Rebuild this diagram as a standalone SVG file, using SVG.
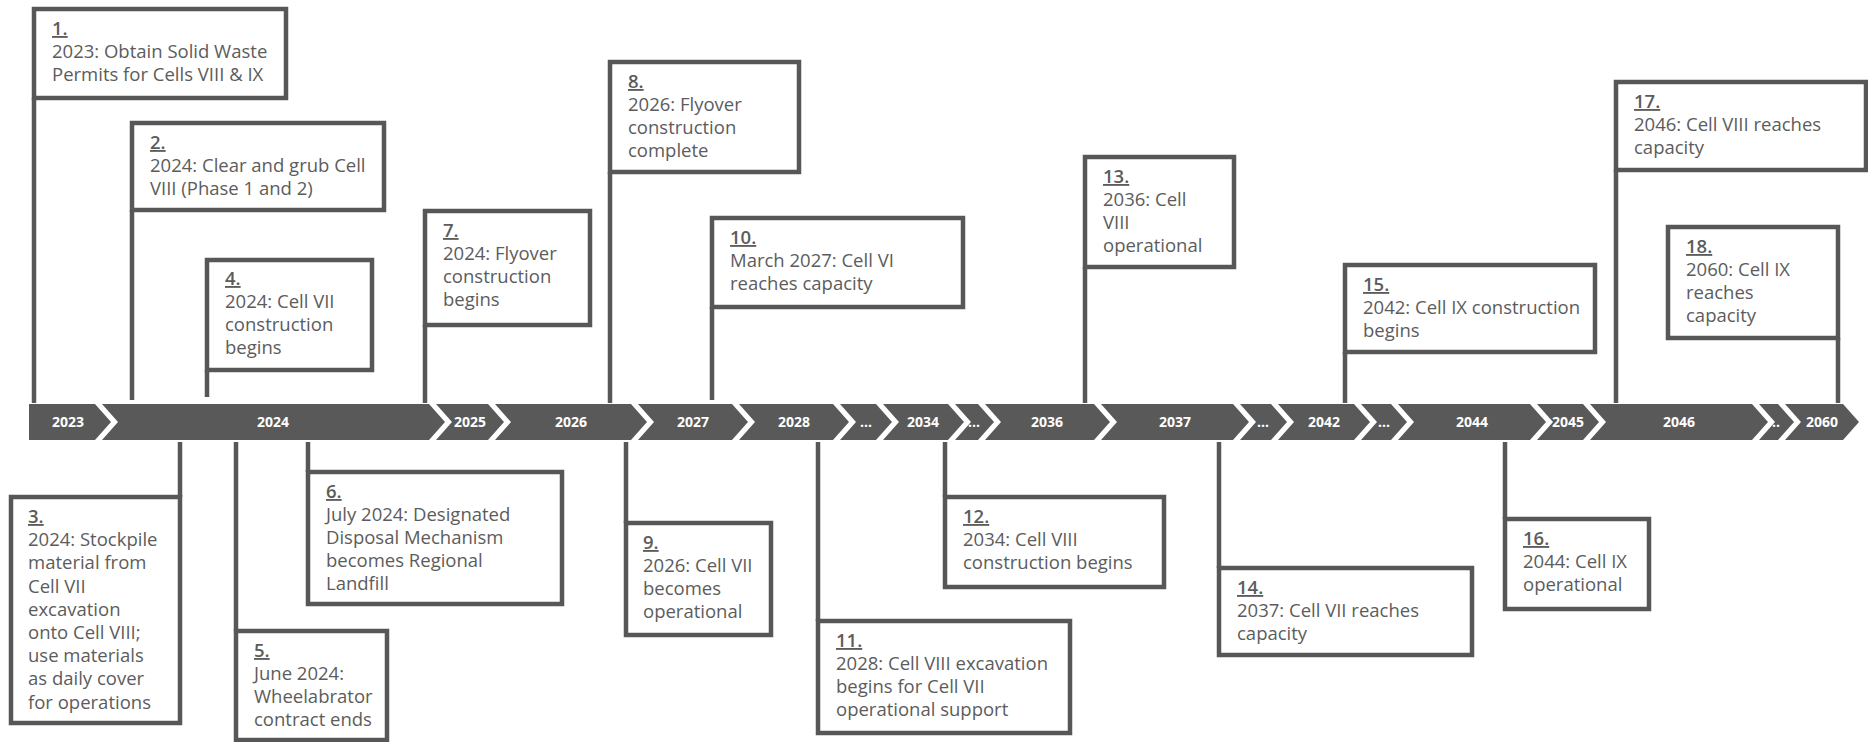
<svg xmlns="http://www.w3.org/2000/svg" width="1868" height="742" viewBox="0 0 1868 742">
<style>
.bg{fill:#ffffff}
.seg{fill:#595959}
.yr{fill:#ffffff;font-family:"Open Sans","Liberation Sans",sans-serif;font-size:14px;font-weight:700;text-anchor:middle}
.box{fill:#ffffff;stroke:#575757;stroke-width:4.5}
.con line{stroke:#575757;stroke-width:4.5}
.t{fill:#5c5c5c;font-family:"Open Sans","Liberation Sans",sans-serif;font-size:18.5px}
.n{font-weight:600;text-decoration:underline}
</style>
<rect class="bg" x="0" y="0" width="1868" height="742"/>
<g id="timeline">
<polygon class="seg" points="29,404 95,404 111,422 95,440 29,440"/>
<polygon class="seg" points="102,404 429,404 445,422 429,440 102,440 118,422"/>
<polygon class="seg" points="436,404 488,404 504,422 488,440 436,440 452,422"/>
<polygon class="seg" points="495,404 631,404 647,422 631,440 495,440 511,422"/>
<polygon class="seg" points="638,404 732,404 748,422 732,440 638,440 654,422"/>
<polygon class="seg" points="739,404 833,404 849,422 833,440 739,440 755,422"/>
<polygon class="seg" points="840,404 876,404 892,422 876,440 840,440 856,422"/>
<polygon class="seg" points="883,404 948,404 964,422 948,440 883,440 899,422"/>
<polygon class="seg" points="955,404 978,404 994,422 978,440 955,440 971,422"/>
<polygon class="seg" points="985,404 1094,404 1110,422 1094,440 985,440 1001,422"/>
<polygon class="seg" points="1101,404 1233,404 1249,422 1233,440 1101,440 1117,422"/>
<polygon class="seg" points="1240,404 1271,404 1287,422 1271,440 1240,440 1256,422"/>
<polygon class="seg" points="1278,404 1354,404 1370,422 1354,440 1278,440 1294,422"/>
<polygon class="seg" points="1361,404 1391,404 1407,422 1391,440 1361,440 1377,422"/>
<polygon class="seg" points="1398,404 1530,404 1546,422 1530,440 1398,440 1414,422"/>
<polygon class="seg" points="1537,404 1583,404 1599,422 1583,440 1537,440 1553,422"/>
<polygon class="seg" points="1590,404 1752,404 1768,422 1752,440 1590,440 1606,422"/>
<polygon class="seg" points="1759,404 1778,404 1794,422 1778,440 1759,440 1775,422"/>
<polygon class="seg" points="1785,404 1843,404 1859,422 1843,440 1785,440 1801,422"/>
<text class="yr" x="68" y="427">2023</text>
<text class="yr" x="273" y="427">2024</text>
<text class="yr" x="470" y="427">2025</text>
<text class="yr" x="571" y="427">2026</text>
<text class="yr" x="693" y="427">2027</text>
<text class="yr" x="794" y="427">2028</text>
<text class="yr" x="866" y="427">...</text>
<text class="yr" x="923" y="427">2034</text>
<text class="yr" x="974" y="427">...</text>
<text class="yr" x="1047" y="427">2036</text>
<text class="yr" x="1175" y="427">2037</text>
<text class="yr" x="1263" y="427">...</text>
<text class="yr" x="1324" y="427">2042</text>
<text class="yr" x="1384" y="427">...</text>
<text class="yr" x="1472" y="427">2044</text>
<text class="yr" x="1568" y="427">2045</text>
<text class="yr" x="1679" y="427">2046</text>
<text class="yr" x="1776" y="427">..</text>
<text class="yr" x="1822" y="427">2060</text>
</g>
<g id="connectors" class="con">
<line x1="34" y1="98" x2="34" y2="403"/>
<line x1="132" y1="210" x2="132" y2="400"/>
<line x1="207" y1="370" x2="207" y2="397"/>
<line x1="425" y1="325" x2="425" y2="403"/>
<line x1="610" y1="172" x2="610" y2="403"/>
<line x1="712" y1="307" x2="712" y2="400"/>
<line x1="1085" y1="267" x2="1085" y2="403"/>
<line x1="1345" y1="352" x2="1345" y2="403"/>
<line x1="1616" y1="170" x2="1616" y2="403"/>
<line x1="1838" y1="338" x2="1838" y2="403"/>
<line x1="180" y1="442" x2="180" y2="497"/>
<line x1="236" y1="442" x2="236" y2="631"/>
<line x1="308" y1="442" x2="308" y2="472"/>
<line x1="626" y1="442" x2="626" y2="523"/>
<line x1="818" y1="442" x2="818" y2="621"/>
<line x1="945" y1="442" x2="945" y2="497"/>
<line x1="1219" y1="442" x2="1219" y2="568"/>
<line x1="1505" y1="442" x2="1505" y2="519"/>
</g>
<g id="n1"><rect class="box" x="34" y="9" width="252" height="89"/>
<text class="t" x="52" y="35"><tspan class="n">1.</tspan><tspan x="52" dy="23">2023: Obtain Solid Waste</tspan><tspan x="52" dy="23">Permits for Cells VIII &amp; IX</tspan></text></g>
<g id="n2"><rect class="box" x="132" y="123" width="252" height="87"/>
<text class="t" x="150" y="149"><tspan class="n">2.</tspan><tspan x="150" dy="23">2024: Clear and grub Cell</tspan><tspan x="150" dy="23">VIII (Phase 1 and 2)</tspan></text></g>
<g id="n3"><rect class="box" x="11" y="497" width="169" height="226"/>
<text class="t" x="28" y="523"><tspan class="n">3.</tspan><tspan x="28" dy="23.2">2024: Stockpile</tspan><tspan x="28" dy="23.2">material from</tspan><tspan x="28" dy="23.2">Cell VII</tspan><tspan x="28" dy="23.2">excavation</tspan><tspan x="28" dy="23.2">onto Cell VIII;</tspan><tspan x="28" dy="23.2">use materials</tspan><tspan x="28" dy="23.2">as daily cover</tspan><tspan x="28" dy="23.2">for operations</tspan></text></g>
<g id="n4"><rect class="box" x="207" y="260" width="165" height="110"/>
<text class="t" x="225" y="285"><tspan class="n">4.</tspan><tspan x="225" dy="23">2024: Cell VII</tspan><tspan x="225" dy="23">construction</tspan><tspan x="225" dy="23">begins</tspan></text></g>
<g id="n5"><rect class="box" x="236" y="631" width="151" height="109"/>
<text class="t" x="254" y="657"><tspan class="n">5.</tspan><tspan x="254" dy="23">June 2024:</tspan><tspan x="254" dy="23">Wheelabrator</tspan><tspan x="254" dy="23">contract ends</tspan></text></g>
<g id="n6"><rect class="box" x="308" y="472" width="254" height="132"/>
<text class="t" x="326" y="498"><tspan class="n">6.</tspan><tspan x="326" dy="23">July 2024: Designated</tspan><tspan x="326" dy="23">Disposal Mechanism</tspan><tspan x="326" dy="23">becomes Regional</tspan><tspan x="326" dy="23">Landfill</tspan></text></g>
<g id="n7"><rect class="box" x="425" y="211" width="165" height="114"/>
<text class="t" x="443" y="237"><tspan class="n">7.</tspan><tspan x="443" dy="23">2024: Flyover</tspan><tspan x="443" dy="23">construction</tspan><tspan x="443" dy="23">begins</tspan></text></g>
<g id="n8"><rect class="box" x="610" y="62" width="189" height="110"/>
<text class="t" x="628" y="88"><tspan class="n">8.</tspan><tspan x="628" dy="23">2026: Flyover</tspan><tspan x="628" dy="23">construction</tspan><tspan x="628" dy="23">complete</tspan></text></g>
<g id="n9"><rect class="box" x="626" y="523" width="145" height="112"/>
<text class="t" x="643" y="549"><tspan class="n">9.</tspan><tspan x="643" dy="23">2026: Cell VII</tspan><tspan x="643" dy="23">becomes</tspan><tspan x="643" dy="23">operational</tspan></text></g>
<g id="n10"><rect class="box" x="712" y="218" width="251" height="89"/>
<text class="t" x="730" y="244"><tspan class="n">10.</tspan><tspan x="730" dy="23">March 2027: Cell VI</tspan><tspan x="730" dy="23">reaches capacity</tspan></text></g>
<g id="n11"><rect class="box" x="818" y="621" width="252" height="112"/>
<text class="t" x="836" y="647"><tspan class="n">11.</tspan><tspan x="836" dy="23">2028: Cell VIII excavation</tspan><tspan x="836" dy="23">begins for Cell VII</tspan><tspan x="836" dy="23">operational support</tspan></text></g>
<g id="n12"><rect class="box" x="945" y="497" width="219" height="90"/>
<text class="t" x="963" y="523"><tspan class="n">12.</tspan><tspan x="963" dy="23">2034: Cell VIII</tspan><tspan x="963" dy="23">construction begins</tspan></text></g>
<g id="n13"><rect class="box" x="1085" y="157" width="149" height="110"/>
<text class="t" x="1103" y="183"><tspan class="n">13.</tspan><tspan x="1103" dy="23">2036: Cell</tspan><tspan x="1103" dy="23">VIII</tspan><tspan x="1103" dy="23">operational</tspan></text></g>
<g id="n14"><rect class="box" x="1219" y="568" width="253" height="87"/>
<text class="t" x="1237" y="594"><tspan class="n">14.</tspan><tspan x="1237" dy="23">2037: Cell VII reaches</tspan><tspan x="1237" dy="23">capacity</tspan></text></g>
<g id="n15"><rect class="box" x="1345" y="265" width="250" height="87"/>
<text class="t" x="1363" y="291"><tspan class="n">15.</tspan><tspan x="1363" dy="23">2042: Cell IX construction</tspan><tspan x="1363" dy="23">begins</tspan></text></g>
<g id="n16"><rect class="box" x="1505" y="519" width="144" height="90"/>
<text class="t" x="1523" y="545"><tspan class="n">16.</tspan><tspan x="1523" dy="23">2044: Cell IX</tspan><tspan x="1523" dy="23">operational</tspan></text></g>
<g id="n17"><rect class="box" x="1616" y="82" width="250" height="88"/>
<text class="t" x="1634" y="108"><tspan class="n">17.</tspan><tspan x="1634" dy="23">2046: Cell VIII reaches</tspan><tspan x="1634" dy="23">capacity</tspan></text></g>
<g id="n18"><rect class="box" x="1668" y="227" width="170" height="111"/>
<text class="t" x="1686" y="253"><tspan class="n">18.</tspan><tspan x="1686" dy="23">2060: Cell IX</tspan><tspan x="1686" dy="23">reaches</tspan><tspan x="1686" dy="23">capacity</tspan></text></g>
</svg>
